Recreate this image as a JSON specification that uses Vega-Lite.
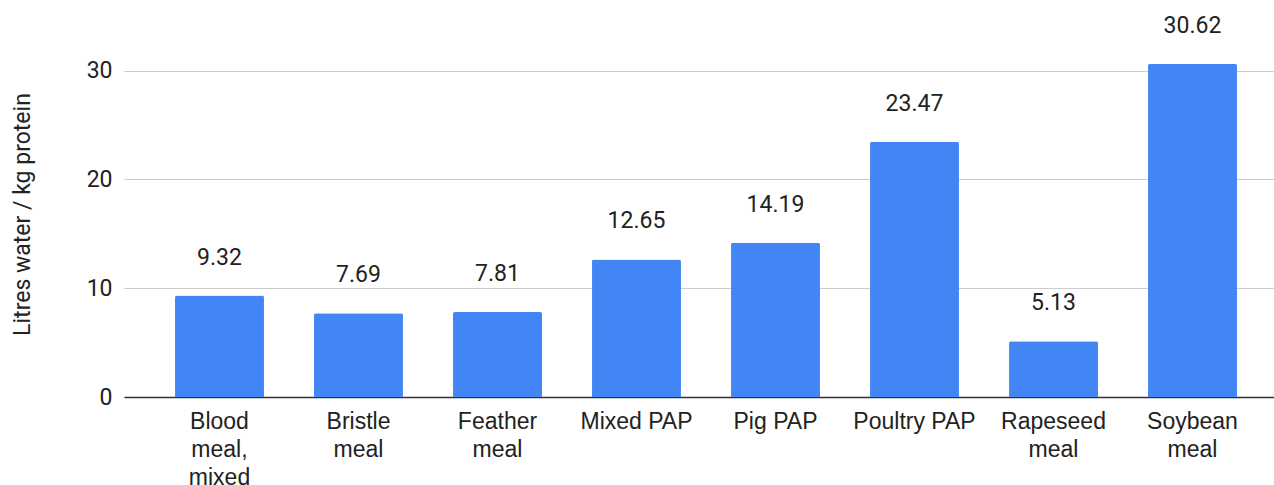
{
  "$schema": "https://vega.github.io/schema/vega-lite/v6.json",
  "autosize": "none",
  "padding": {"left": 124, "top": 38, "right": -14, "bottom": 88},
  "width": 1164,
  "height": 359,
  "background": "white",
  "config": {"view": {"stroke": null}},
  "data": {
    "values": [
      {"feed": "Blood meal, mixed", "value": 9.32},
      {"feed": "Bristle meal", "value": 7.69},
      {"feed": "Feather meal", "value": 7.81},
      {"feed": "Mixed PAP", "value": 12.65},
      {"feed": "Pig PAP", "value": 14.19},
      {"feed": "Poultry PAP", "value": 23.47},
      {"feed": "Rapeseed meal", "value": 5.13},
      {"feed": "Soybean meal", "value": 30.62}
    ]
  },
  "encoding": {
    "x": {
      "field": "feed",
      "type": "nominal",
      "sort": null,
      "scale": {"paddingInner": 0.36, "paddingOuter": 0.367},
      "axis": {
        "title": null,
        "labelAngle": 0,
        "labelFont": "Liberation Sans",
        "labelFontSize": 23,
        "labelColor": "#222222",
        "labelPadding": 13,
        "labelLineHeight": 28,
        "labelBaseline": "top",
        "labelExpr": "indexof(datum.value, 'PAP') >= 0 ? datum.value : split(datum.value, ' ')",
        "ticks": false,
        "domain": true,
        "domainColor": "#333333",
        "domainWidth": 1.5,
        "grid": false
      }
    },
    "y": {
      "field": "value",
      "type": "quantitative",
      "scale": {"domain": [0, 33], "nice": false},
      "axis": {
        "title": "Litres water / kg protein",
        "titleFont": "Roboto",
        "titleFontSize": 23,
        "titleFontWeight": "normal",
        "titleColor": "#222222",
        "titleAngle": -90,
        "titleX": -102,
        "titleY": 176,
        "titleAlign": "center",
        "titleBaseline": "middle",
        "values": [0, 10, 20, 30],
        "labelFont": "Roboto",
        "labelFontSize": 23,
        "labelColor": "#222222",
        "labelPadding": 12,
        "ticks": false,
        "domain": false,
        "grid": true,
        "gridColor": "#cccccc",
        "gridWidth": 1
      }
    }
  },
  "layer": [
    {
      "mark": {"type": "bar", "color": "#4285F4", "cornerRadiusTopLeft": 2, "cornerRadiusTopRight": 2}
    },
    {
      "mark": {"type": "text", "font": "Roboto", "fontSize": 23, "color": "#222222", "baseline": "middle", "dy": -38},
      "encoding": {"text": {"field": "value", "type": "quantitative", "format": ".2f"}}
    }
  ]
}
